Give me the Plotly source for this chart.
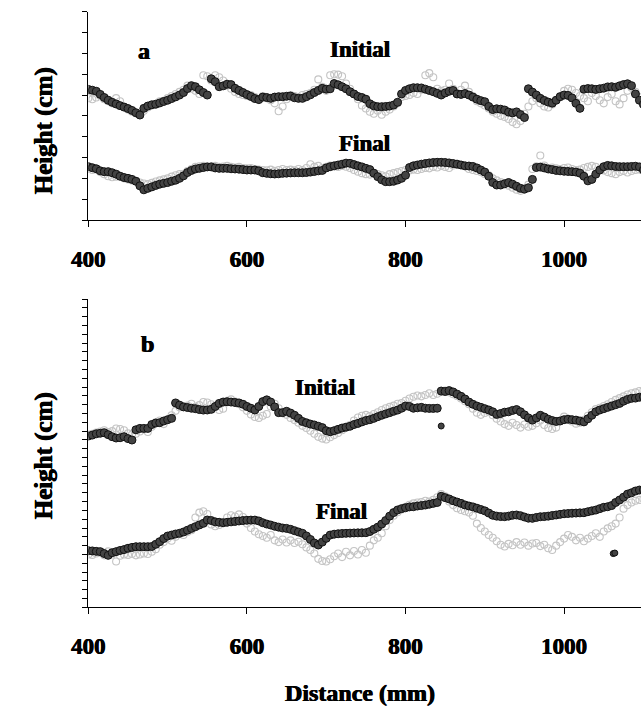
import plotly.graph_objects as go

# Surface height profiles along the transect, sampled every 5 mm from 400 mm.
START_MM = 400
STEP_MM = 5

# ---- Panel a -------------------------------------------------------------
a_initial_dark = [
    6.27, 6.23, 6.18, 6.03, 5.88, 5.75, 5.65, 5.57, 5.49, 5.42,
    5.35, 5.26, 5.15, 5.04, 5.36, 5.47, 5.53, 5.56, 5.62, 5.69,
    5.75, 5.83, 5.91, 6.00, 6.12, 6.31, 6.45, 6.40, 6.25, 6.12,
    6.00, 6.78, 6.64, 6.40, 6.44, 6.52, 6.50, 6.32, 6.22, 6.12,
    6.02, 5.93, 5.83, 5.78, 5.90, 5.88, 5.84, 5.90, 5.92, 5.92,
    5.94, 5.95, 5.87, 5.84, 5.84, 5.92, 6.01, 6.12, 6.22, 6.32,
    6.28, 6.30, 6.55, 6.49, 6.40, 6.30, 6.16, 6.05, 5.93, 5.88,
    5.80, 5.58, 5.48, 5.44, 5.44, 5.45, 5.47, 5.52, 5.65, 6.05,
    6.22, 6.30, 6.35, 6.35, 6.34, 6.28, 6.22, 6.16, 6.08, 6.00,
    6.10, 6.18, 6.22, 6.05, 6.03, 6.07, 6.00, 5.90, 5.80, 5.73,
    5.68, 5.45, 5.30, 5.34, 5.32, 5.28, 5.18, 5.14, 5.19, 5.06,
    4.92, 6.30, 6.14, 6.00, 5.84, 5.74, 5.66, 5.61, 5.75, 5.92,
    6.00, 5.98, 5.86, 5.60, 5.36, 6.28, 6.31, 6.30, 6.27, 6.30,
    6.33, 6.39, 6.40, 6.37, 6.44, 6.50, 6.54, 6.45, 6.05, 5.75,
    5.55,
]
a_initial_light = [
    5.85, 5.80, 5.88, 5.95, 5.80, 5.70, 5.60, 5.85, 5.70, 5.45,
    5.30, 5.20, 5.12, 5.10, 5.25, 5.40, 5.50, 5.55, 5.70, 5.72,
    5.85, 5.95, 6.05, 6.15, 6.25, 6.45, 6.30, 6.20, 6.05, 6.95,
    6.90, 6.70, 6.95, 6.85, 6.70, 6.45, 6.30, 6.15, 6.05, 6.00,
    5.95, 6.00, 5.90, 5.80, 5.95, 5.85, 5.75, 5.60, 5.22, 5.45,
    5.80, 6.00, 5.95, 5.90, 6.00, 6.05, 6.10, 6.25, 6.75, 6.40,
    6.20, 6.95, 7.00, 6.98, 6.90, 6.55, 6.30, 6.05, 5.80, 5.50,
    5.35, 5.20, 5.10, 5.25, 5.05, 5.20, 5.30, 5.45, 5.60, 5.90,
    5.95, 6.00, 6.10, 6.05, 6.25, 6.95, 7.05, 6.85, 6.30, 6.20,
    6.25, 6.55, 6.30, 6.10, 6.25, 6.45, 6.15, 5.95, 5.70, 5.60,
    5.50, 5.35, 5.20, 5.10, 5.00, 4.95, 4.85, 4.70, 4.60, 4.75,
    5.10, 5.45, 5.70, 5.85, 5.60, 5.45, 5.40, 5.55, 5.75, 5.95,
    6.20, 6.30, 6.25, 6.10, 5.95, 5.85, 5.70, 6.10, 5.95, 5.75,
    5.60, 5.90, 6.05, 5.70, 5.55, 5.85, 6.20, 6.35, 6.15, 5.90,
    5.70,
]
a_final_dark = [
    2.56, 2.51, 2.46, 2.36, 2.32, 2.32, 2.27, 2.20, 2.10, 2.04,
    2.00, 1.95, 1.86, 1.64, 1.45, 1.52, 1.59, 1.66, 1.72, 1.76,
    1.80, 1.86, 1.91, 2.00, 2.12, 2.28, 2.38, 2.45, 2.48, 2.52,
    2.55, 2.55, 2.50, 2.48, 2.48, 2.48, 2.46, 2.45, 2.44, 2.42,
    2.40, 2.40, 2.40, 2.36, 2.27, 2.24, 2.22, 2.21, 2.22, 2.24,
    2.25, 2.26, 2.27, 2.27, 2.27, 2.28, 2.30, 2.33, 2.36, 2.38,
    2.50, 2.56, 2.60, 2.64, 2.68, 2.73, 2.72, 2.66, 2.60, 2.55,
    2.48, 2.42, 2.25, 2.08, 1.93, 1.84, 1.84, 1.86, 1.92, 2.00,
    2.15, 2.52, 2.60, 2.64, 2.68, 2.71, 2.74, 2.76, 2.77, 2.77,
    2.76, 2.74, 2.71, 2.68, 2.64, 2.60, 2.59, 2.57, 2.50, 2.40,
    2.30, 2.10, 1.80, 1.68, 1.68, 1.74, 1.80, 1.72, 1.62, 1.52,
    1.48, 1.55, 1.95, 2.52, 2.54, 2.50, 2.45, 2.42, 2.38, 2.36,
    2.34, 2.33, 2.32, 2.30, 2.25, 2.10, 1.88, 1.95, 2.20, 2.40,
    2.56, 2.62, 2.60, 2.57, 2.56, 2.56, 2.56, 2.57, 2.58, 2.55,
    2.40,
]
a_final_light = [
    2.45, 2.40, 2.42, 2.30, 2.20, 2.10, 2.05, 2.08, 2.12, 2.00,
    1.95, 1.90, 1.88, 1.80, 1.75, 1.72, 1.78, 1.85, 1.90, 1.95,
    2.00, 2.08, 2.15, 2.20, 2.22, 2.35, 2.45, 2.55, 2.58, 2.60,
    2.55, 2.58, 2.60, 2.55, 2.57, 2.60, 2.55, 2.52, 2.55, 2.50,
    2.48, 2.50, 2.45, 2.42, 2.40, 2.38, 2.42, 2.36, 2.40, 2.45,
    2.40, 2.42, 2.38, 2.45, 2.40, 2.50, 2.68, 2.55, 2.60, 2.50,
    2.55, 2.62, 2.58, 2.55, 2.60, 2.56, 2.50, 2.40, 2.32, 2.25,
    2.20, 2.18, 2.25, 2.20, 2.15, 2.10, 2.20, 2.25, 2.30, 2.35,
    2.40, 2.38, 2.42, 2.40, 2.45, 2.50, 2.48, 2.55, 2.52, 2.60,
    2.55, 2.50, 2.62, 2.70, 2.65, 2.58, 2.45, 2.40, 2.35, 2.30,
    2.20, 2.15, 2.00, 1.90, 1.82, 1.75, 1.65, 1.55, 1.45, 1.40,
    1.52, 1.70, 2.45, 2.58, 3.10, 2.62, 2.50, 2.52, 2.48, 2.45,
    2.50, 2.52, 2.45, 2.40, 2.42, 2.50, 2.55, 2.60, 2.55, 2.45,
    2.38, 2.30, 2.25, 2.20, 2.30, 2.35, 2.28, 2.35, 2.40, 2.42,
    2.45,
]

# ---- Panel b -------------------------------------------------------------
b_initial_dark = [
    19.44, 19.55, 19.70, 19.76, 19.82, 19.60, 19.37, 19.22, 19.25, 19.37,
    19.15, 18.99, 20.15, 20.31, 20.31, 20.31, 20.75, 20.92, 20.96, 21.15,
    21.30, 21.45, 23.20, 22.95, 22.75, 22.68, 22.60, 22.55, 22.45, 22.39,
    22.40, 22.47, 22.80, 23.15, 23.30, 23.34, 23.30, 23.25, 23.20, 23.05,
    22.80, 22.60, 22.40, 22.80, 23.35, 23.55, 23.30, 22.75, 22.10, 22.10,
    22.25, 22.05, 21.80, 21.45, 21.10, 20.95, 20.80, 20.70, 20.55, 20.40,
    20.05, 19.93, 20.05, 20.20, 20.35, 20.45, 20.55, 20.75, 20.88, 21.05,
    21.20, 21.30, 21.45, 21.64, 21.80, 21.95, 22.10, 22.25, 22.39, 22.60,
    22.85, 22.80, 22.60, 22.65, 22.70, 22.60, 22.58, 22.58, 22.60, 24.55,
    24.50, 24.60, 24.45, 24.20, 23.95, 23.65, 23.30, 23.05, 22.85, 22.70,
    22.55, 22.40, 22.20, 21.90, 22.00, 22.15, 22.20, 22.35, 22.45, 22.20,
    21.85, 21.50, 21.25, 21.50, 21.80, 21.60, 21.35, 21.20, 21.10, 21.15,
    21.30, 21.35, 21.30, 21.25, 21.15, 21.05, 21.40, 21.80, 22.20, 22.40,
    22.55, 22.70, 22.85, 23.00, 23.15, 23.40, 23.60, 23.72, 23.75, 23.85,
    23.90,
]
b_initial_light = [
    19.60, 19.70, 19.85, 19.95, 20.10, 19.90, 20.00, 20.30, 20.25, 20.10,
    19.75, 19.60, 19.70, 19.95, 20.20, 19.90, 20.50, 21.00, 21.20, 20.80,
    21.30, 21.80, 22.30, 22.70, 22.80, 22.90, 23.10, 22.75, 22.95, 23.30,
    23.25, 23.05, 22.75, 22.40, 22.55, 23.45, 23.60, 23.35, 23.05, 22.70,
    22.30, 21.90, 21.60, 21.50, 21.75, 21.95, 22.80, 23.10, 22.60, 22.15,
    21.85, 21.50, 21.25, 20.95, 20.60, 20.35, 20.05, 19.70, 19.35, 19.15,
    19.05, 19.30, 19.55, 19.80, 20.10, 20.40, 20.70, 21.20, 21.55, 21.75,
    21.85, 21.70, 21.95, 22.15, 22.40, 22.60, 22.75, 22.90, 23.10, 23.20,
    23.45, 23.70, 23.90, 24.05, 23.95, 24.10, 24.30, 24.10, 24.25, 24.45,
    24.60, 24.40, 24.20, 24.00, 23.70, 23.40, 23.05, 22.55, 22.10, 21.85,
    22.05, 22.20, 21.80, 21.40, 21.10, 20.80, 20.60, 20.95, 20.70, 20.40,
    20.75, 20.50, 20.60, 20.90, 21.20, 20.70, 20.35, 20.25, 20.40, 21.20,
    21.65, 21.40, 21.10, 20.85, 20.95, 21.30, 21.75, 22.15, 22.50, 22.65,
    22.85, 23.05, 23.30, 23.55, 23.75, 23.95, 24.15, 24.30, 24.40, 24.55,
    24.60,
]
b_final_dark = [
    6.43, 6.40, 6.35, 6.32, 6.10, 5.90, 6.20, 6.32, 6.45, 6.55,
    6.70, 6.80, 6.88, 6.88, 6.88, 6.88, 6.90, 7.15, 7.45, 7.80,
    8.09, 8.20, 8.32, 8.40, 8.55, 8.75, 8.96, 9.15, 9.35, 9.53,
    9.91, 9.85, 9.70, 9.65, 9.60, 9.65, 9.70, 9.75, 9.80, 9.85,
    9.88, 9.90, 9.90, 9.80, 9.60, 9.45, 9.34, 9.20, 9.10, 9.00,
    8.96, 8.85, 8.70, 8.55, 8.40, 8.10, 7.70, 7.30, 7.07, 7.40,
    7.83, 8.20, 8.30, 8.35, 8.38, 8.40, 8.42, 8.44, 8.45, 8.46,
    8.47, 8.60, 8.85, 9.10, 9.45, 9.85, 10.35, 10.75, 11.05, 11.20,
    11.30, 11.40, 11.42, 11.50, 11.55, 11.61, 11.70, 11.80, 11.90, 12.60,
    12.45, 12.30, 12.10, 11.95, 11.80, 11.62, 11.50, 11.40, 11.25, 11.10,
    10.95, 10.70, 10.45, 10.35, 10.30, 10.29, 10.35, 10.45, 10.48, 10.40,
    10.25, 10.12, 10.10, 10.20, 10.28, 10.30, 10.35, 10.42, 10.48, 10.55,
    10.62, 10.65, 10.68, 10.70, 10.72, 10.74, 10.85, 10.95, 11.04, 11.20,
    11.35, 11.42, 11.55, 11.90, 12.18, 12.50, 12.85, 13.00, 13.20, 13.31,
    13.35,
]
b_final_light = [
    6.00, 5.95, 6.10, 6.20, 5.90, 6.35, 6.00, 5.20, 5.85, 6.00,
    5.95, 6.05, 5.90, 6.00, 6.10, 6.05, 6.30, 6.60, 7.10, 7.40,
    7.80, 7.55, 8.00, 8.40, 8.20, 8.55, 8.75, 10.20, 10.75, 10.90,
    10.60, 9.40, 9.20, 9.35, 9.60, 10.20, 10.45, 10.30, 10.55, 10.25,
    9.50, 9.00, 8.60, 8.30, 8.10, 7.90, 8.20, 7.60, 7.40, 7.70,
    7.35, 7.60, 7.30, 7.45, 7.15, 6.80, 6.50, 6.10, 5.50, 5.25,
    5.20, 5.45, 5.80, 6.10, 5.70, 6.30, 5.90, 6.40, 6.00, 6.50,
    6.20, 7.00, 7.60, 7.90, 8.40, 9.20, 9.90, 10.40, 10.80, 11.10,
    11.40, 11.65, 11.80, 11.90, 11.95, 12.10, 12.00, 12.20, 12.50, 12.85,
    12.60, 12.00, 11.60, 11.25, 11.05, 10.90, 10.75, 10.40, 9.50, 9.00,
    8.60, 8.20, 7.90, 7.50, 7.10, 6.90, 7.20, 7.05, 7.40, 7.10,
    7.35, 7.00, 7.25, 7.30, 6.95, 7.10, 6.70, 6.50, 7.00, 7.40,
    7.80, 8.20, 8.00, 7.60, 7.90, 7.50, 7.80, 8.10, 8.40, 8.00,
    8.60, 8.96, 9.20, 9.50, 10.20, 11.20, 11.60, 11.90, 12.10, 12.20,
    12.30,
]

# isolated readings away from the main profiles
b_initial_stray_x = [845]
b_initial_stray_y = [20.58]
b_final_stray_x = [1062, 1064]
b_final_stray_y = [6.10, 6.16]

x_ticks = [400, 600, 800, 1000]

FONT = "Liberation Serif"
HEAVY = "0.45px 0 0 #000, -0.45px 0 0 #000"
DARK_FILL = "#434343"
DARK_EDGE = "#121212"
LIGHT_EDGE = "#c4c4c4"


def distances(values):
    return [START_MM + STEP_MM * i for i in range(len(values))]


def light_trace(values, xa, ya):
    return go.Scatter(
        x=distances(values), y=values, mode="markers", xaxis=xa, yaxis=ya,
        marker=dict(symbol="circle-open", size=7, color=LIGHT_EDGE,
                    line=dict(width=1.1, color=LIGHT_EDGE)),
        showlegend=False, hoverinfo="skip",
    )


def dark_trace(xs, values, xa, ya, size=8):
    return go.Scatter(
        x=xs, y=values, mode="markers", xaxis=xa, yaxis=ya,
        marker=dict(symbol="circle", size=size, color=DARK_FILL,
                    line=dict(width=1, color=DARK_EDGE)),
        showlegend=False, hoverinfo="skip",
    )


fig = go.Figure()
# panel a
fig.add_trace(light_trace(a_initial_light, "x", "y"))
fig.add_trace(light_trace(a_final_light, "x", "y"))
fig.add_trace(dark_trace(distances(a_initial_dark), a_initial_dark, "x", "y"))
fig.add_trace(dark_trace(distances(a_final_dark), a_final_dark, "x", "y"))
# panel b
fig.add_trace(light_trace(b_initial_light, "x2", "y2"))
fig.add_trace(light_trace(b_final_light, "x2", "y2"))
fig.add_trace(dark_trace(distances(b_initial_dark), b_initial_dark, "x2", "y2"))
fig.add_trace(dark_trace(distances(b_final_dark), b_final_dark, "x2", "y2"))
fig.add_trace(dark_trace(b_initial_stray_x, b_initial_stray_y, "x2", "y2", size=6))
fig.add_trace(dark_trace(b_final_stray_x, b_final_stray_y, "x2", "y2", size=6))

W, H = 641, 708
X_DOMAIN = [73.3 / W, 1.0]
X_RANGE = [400, 1097]

common_x = dict(
    range=X_RANGE, domain=X_DOMAIN, tickmode="array", tickvals=x_ticks,
    ticks="outside", ticklen=6, tickwidth=1, tickcolor="black",
    showline=True, linecolor="black", linewidth=1,
    showgrid=False, zeroline=False, ticklabelstandoff=12,
    tickfont=dict(family=FONT, size=23, color="black", weight="bold", shadow=HEAVY),
)
common_y = dict(
    dtick=1, tick0=0, ticks="outside", ticklen=5, tickwidth=1, tickcolor="black",
    showline=True, linecolor="black", linewidth=1, showticklabels=False,
    showgrid=False, zeroline=False,
)

fig.update_layout(
    width=W, height=H,
    margin=dict(l=0, r=0, t=0, b=0),
    paper_bgcolor="white", plot_bgcolor="white",
    xaxis=dict(common_x, anchor="y"),
    yaxis=dict(common_y, range=[0, 10], domain=[1 - 220 / H, 1 - 11.7 / H], anchor="x"),
    xaxis2=dict(common_x, anchor="y2"),
    yaxis2=dict(common_y, range=[0, 35], domain=[1 - 607.3 / H, 1 - 299 / H], anchor="x2"),
)


def label(text, x, y, xref, yref, size, angle=0):
    fig.add_annotation(
        text=text, x=x, y=y, xref=xref, yref=yref, showarrow=False,
        textangle=angle, xanchor="center", yanchor="middle",
        font=dict(family=FONT, size=size, color="black", weight="bold", shadow=HEAVY),
    )


# panel letters and profile names
label("a", 470, 8.1, "x", "y", 24)
label("Initial", 742, 8.2, "x", "y", 23)
label("Final", 748, 3.68, "x", "y", 23)
label("b", 474, 29.9, "x2", "y2", 24)
label("Initial", 699, 24.9, "x2", "y2", 23)
label("Final", 719, 10.9, "x2", "y2", 23)

# axis titles
label("Height (cm)", 28 / W, 1 - 131 / H, "paper", "paper", 25, angle=-90)
label("Height (cm)", 28 / W, 1 - 456 / H, "paper", "paper", 25, angle=-90)
label("Distance (mm)", 352 / W, 1 - 693 / H, "paper", "paper", 24)

fig.write_html("out.html")
